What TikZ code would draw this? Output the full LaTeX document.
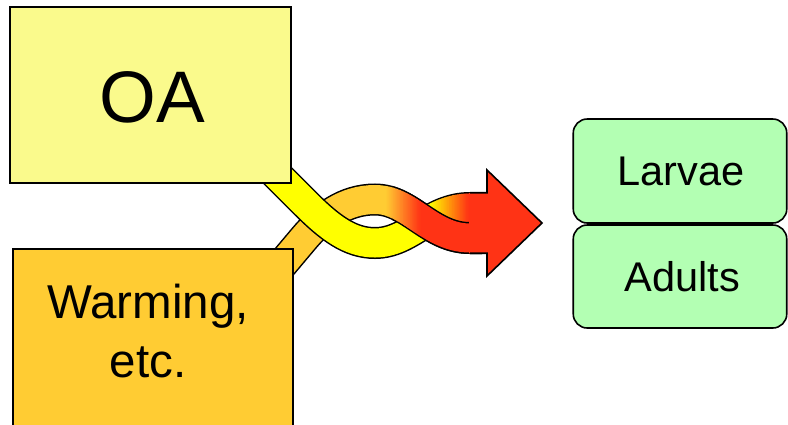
\documentclass[tikz,border=0pt]{standalone}
\usepackage{fontspec}
\setmainfont{Liberation Sans}
\definecolor{oafill}{HTML}{FAFA8C}
\definecolor{warmfill}{HTML}{FFCC33}
\definecolor{greenfill}{HTML}{B3FFB3}
\definecolor{yel}{HTML}{FFFF00}
\definecolor{org}{HTML}{FFCC33}
\definecolor{redc}{HTML}{FF3315}
\tikzset{
  boxst/.style={draw=black, line width=1.6pt, inner sep=0pt, outer sep=0pt},
  greenbox/.style={boxst, fill=greenfill, rounded corners=14pt},
  bandedge/.style={draw=black, line width=32pt, line cap=butt},
  bandcore/.style={line width=29pt, line cap=butt},
}
% centre lines of the two twisted bands
\def\bandA{(262,160) -- (305,203) .. controls (330,228) and (350,243) .. (375,243) .. controls (410,243) and (430,208) .. (470,208) -- (482,208)}
\def\bandB{(279,268) -- (304,238.3) .. controls (322,217) and (345,199.5) .. (375,199.5) .. controls (410,199.5) and (430,238) .. (470,238) -- (482,238)}
% colour a band from #2 to #3 between x = #4 and x = #5
\newcommand\bandfill[5]{%
  \begin{scope}\clip (-10,-10) rectangle (#4+0.5,440); \draw[bandcore,#2] #1; \end{scope}
  \begin{scope}\clip (#5-0.5,-10) rectangle (800,440); \draw[bandcore,#3] #1; \end{scope}
  \pgfmathsetmacro\bandstep{(#5-#4)/24}
  \foreach \k in {0,...,23}{
    \pgfmathtruncatemacro\bandpct{100*(\k+0.5)/24}
    \begin{scope}
      \clip (#4+\k*\bandstep,-10) rectangle (#4+\k*\bandstep+\bandstep+0.6,440);
      \draw[bandcore,#3!\bandpct!#2] #1;
    \end{scope}
  }%
}
\begin{document}
\begin{tikzpicture}[x=1pt,y=-1pt,line join=miter]
\useasboundingbox (0,0) rectangle (788,424);
\clip (0,0) rectangle (788,424);

% lower band (from the warming box), passes under at the left crossing
\draw[bandedge] \bandB;
\bandfill{\bandB}{org}{redc}{386}{420}
% upper band (from the OA box)
\draw[bandedge] \bandA;
\bandfill{\bandA}{yel}{redc}{430}{468}
% the warming band lies on top at the right crossing
\begin{scope}
  \clip (392,-10) rectangle (800,440);
  \draw[bandedge] \bandB;
  \bandfill{\bandB}{org}{redc}{386}{420}
\end{scope}

% arrow head
\fill[redc] (469,192.75) -- (487,192.75) -- (487,170) -- (542,223) -- (487,276) -- (487,253.25) -- (469,253.25) -- cycle;
\draw[line width=1.6pt] (470,192.75) -- (487,192.75) -- (487,170) -- (542,223) -- (487,276) -- (487,253.25) -- (470,253.25);

% driver boxes
\node[boxst, fill=oafill, minimum width=281pt, minimum height=176pt] (oa) at (150.5,95) {};
\node[anchor=base, font=\fontsize{73}{86}\selectfont] (oatext) at (152,122) {OA};
\node[boxst, fill=warmfill, minimum width=280pt, minimum height=200pt] (warm) at (153,349) {};
\node[anchor=base, font=\fontsize{47.5}{59}\selectfont] (warmA) at (148,318) {Warming,};
\node[anchor=base, font=\fontsize{47.5}{59}\selectfont] (warmB) at (148,377) {etc.};

% life stages
\node[greenbox, minimum width=213.5pt, minimum height=104pt] (larvae) at (680,171) {};
\node[anchor=base, font=\fontsize{41.5}{50}\selectfont] (larvaetext) at (681,185) {Larvae};
\node[greenbox, minimum width=213.5pt, minimum height=103pt] (adults) at (680,276.5) {};
\node[anchor=base, font=\fontsize{41.5}{50}\selectfont] (adultstext) at (682.5,291.5) {Adults};
\end{tikzpicture}
\end{document}
